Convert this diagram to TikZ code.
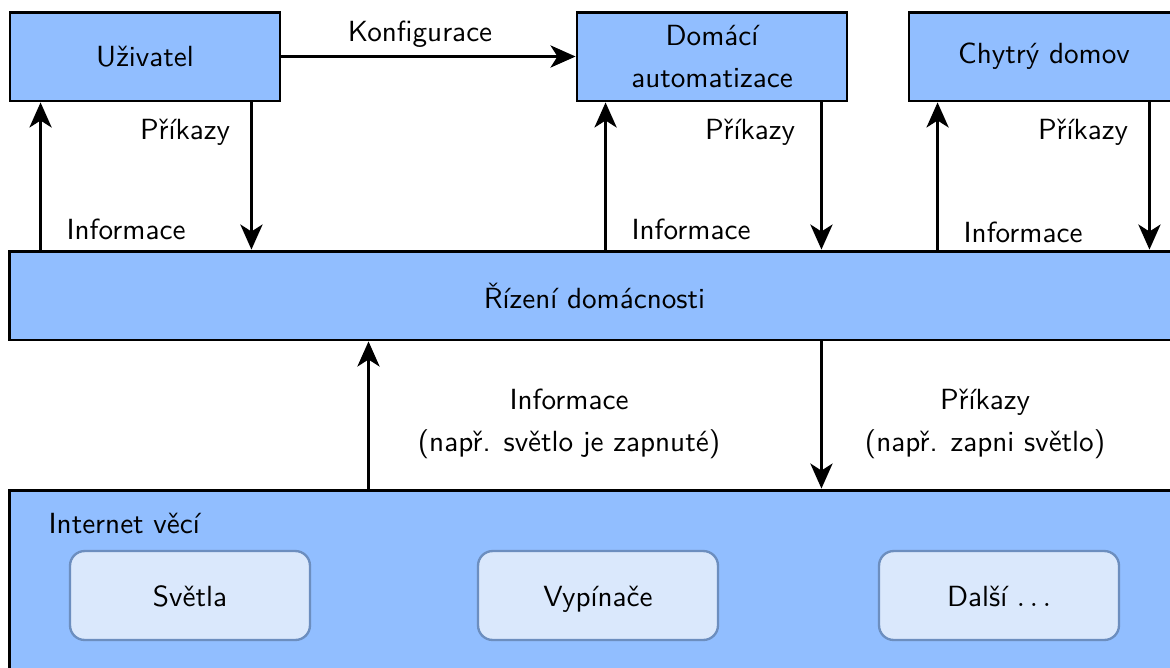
\documentclass[tikz,border=0pt]{standalone}
\usetikzlibrary{arrows.meta,calc}
\renewcommand{\familydefault}{\sfdefault}

\definecolor{boxblue}{RGB}{145,190,255}
\definecolor{devfill}{RGB}{218,232,252}
\definecolor{devline}{RGB}{108,142,191}

\tikzset{
  blk/.style={draw, line width=1pt, fill=boxblue, minimum width=92.6pt,
    minimum height=30.5pt, align=center, inner sep=0pt},
  dev/.style={draw=devline, line width=0.8pt, fill=devfill, rounded corners=5pt,
    minimum width=82.3pt, minimum height=30.5pt, inner sep=0pt,
    text height=8.6pt, text depth=0.8pt},
  arr/.style={line width=1pt, -{Stealth[length=8.6pt,width=7.6pt,inset=2.4pt]}},
  lbl/.style={align=center, inner sep=0pt}
}

\begin{document}
\begin{tikzpicture}[x=0.343pt,y=-0.343pt]
\useasboundingbox (0,0) rectangle (1170,667);
\clip (0,0) rectangle (1170,667);

%top boxes
\node[blk] (user) at (145,56.5) {U\v{z}ivatel};
\node[blk] (auto) at (712,56.5) {Domácí\\[2.4pt]automatizace};
\node[blk] (smart) at (1044,56.5) {Chytrý domov};

%control and things
\node[blk, minimum width=401pt] (ctrl) at (594.5,295.5) {Řízení domácnosti};
\node[blk, minimum width=401pt, minimum height=72pt] (iot) at (594.5,595) {};
\node[lbl, anchor=west] (iotlbl) at (48,523) {Internet věcí};
\node[dev] (lights) at (190,595.5) {Světla};
\node[dev] (switch) at (598,595.5) {Vypínače};
\node[dev] (more) at (999,595.5) {Další $\ldots$};

%arrow positions
\coordinate (uIn) at ($(user.south west)+(32,0)$);
\coordinate (uOut) at ($(user.south east)+(-30,0)$);
\coordinate (aIn) at ($(auto.south west)+(30,0)$);
\coordinate (aOut) at ($(auto.south east)+(-27,0)$);
\coordinate (sIn) at ($(smart.south west)+(30,0)$);
\coordinate (sOut) at ($(smart.south east)+(-31,0)$);
\coordinate (iIn) at ($(ctrl.south west)+(360,0)$);

%arrows
\draw[arr] (user.east) -- (auto.west);
\draw[arr] (uIn |- ctrl.north) -- (uIn);
\draw[arr] (uOut) -- (uOut |- ctrl.north);
\draw[arr] (aIn |- ctrl.north) -- (aIn);
\draw[arr] (aOut) -- (aOut |- ctrl.north);
\draw[arr] (sIn |- ctrl.north) -- (sIn);
\draw[arr] (sOut) -- (sOut |- ctrl.north);
\draw[arr] (iIn |- iot.north) -- (iIn);
\draw[arr] (aOut |- ctrl.south) -- (aOut |- iot.north);

%labels
\node[lbl] (konf) at (420,34) {Konfigurace};
\node[lbl] (cmd1) at (185,132) {Příkazy};
\node[lbl] (cmd2) at (750,132) {Příkazy};
\node[lbl] (cmd3) at (1083,132) {Příkazy};
\node[lbl] (inf1) at (126,229) {Informace};
\node[lbl] (inf2) at (691,229) {Informace};
\node[lbl] (inf3) at (1023,232) {Informace};
\node[lbl] (infIot) at (569,424) {Informace\\[2.4pt](např. světlo je zapnuté)};
\node[lbl] (cmdIot) at (985,424) {Příkazy\\[2.4pt](např. zapni světlo)};
\end{tikzpicture}
\end{document}
